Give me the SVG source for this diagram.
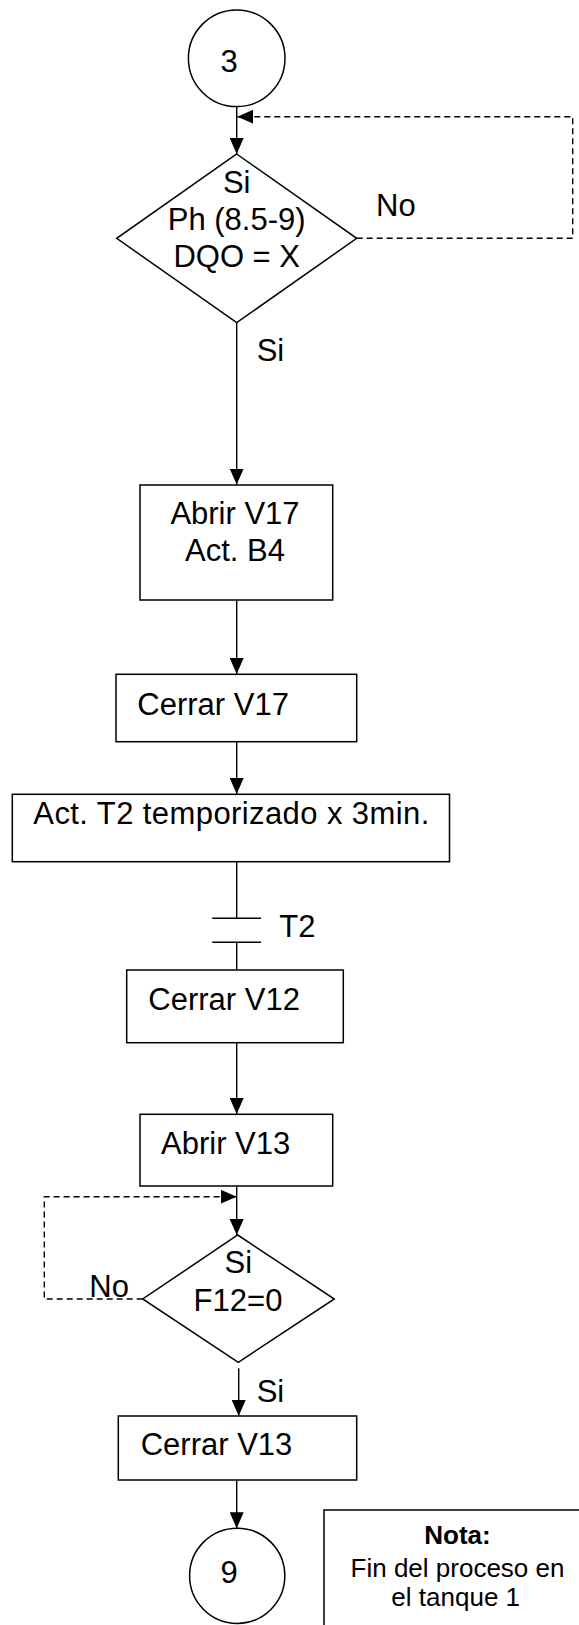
<svg xmlns="http://www.w3.org/2000/svg" width="579" height="1625" viewBox="0 0 579 1625">
<style>
.s{fill:#fff;stroke:#000;stroke-width:1.5}
.c{fill:none;stroke:#000;stroke-width:1.4}
.d{fill:none;stroke:#000;stroke-width:1.4;stroke-dasharray:6 4}
text{font-family:"Liberation Sans",Arial,sans-serif;font-size:31px;fill:#000}
.m{text-anchor:middle}
.n{font-size:26px}
</style>
<defs>
<marker id="ah" viewBox="0 0 16 14" refX="16" refY="7" markerWidth="16" markerHeight="14" orient="auto" markerUnits="userSpaceOnUse"><path d="M0,0 L16,7 L0,14 z" fill="#000"/></marker>
</defs>
<rect width="579" height="1625" fill="#fff"/>
<g id="connectors">
<line class="c" x1="236.7" y1="106.7" x2="236.7" y2="154" marker-end="url(#ah)"/>
<path class="d" d="M356.7,238.3 H572.7 V116.7 H237.3" marker-end="url(#ah)"/>
<line class="c" x1="236.7" y1="322.7" x2="236.7" y2="484.5" marker-end="url(#ah)"/>
<line class="c" x1="236.7" y1="600" x2="236.7" y2="674" marker-end="url(#ah)"/>
<line class="c" x1="236.7" y1="741.7" x2="236.7" y2="794" marker-end="url(#ah)"/>
<line class="c" x1="236.7" y1="861.7" x2="236.7" y2="918.3"/>
<line class="c" x1="212.3" y1="918.3" x2="261" y2="918.3"/>
<line class="c" x1="212.3" y1="942.3" x2="261" y2="942.3"/>
<line class="c" x1="236.7" y1="942.3" x2="236.7" y2="970"/>
<line class="c" x1="236.7" y1="1042.7" x2="236.7" y2="1114" marker-end="url(#ah)"/>
<line class="c" x1="236.7" y1="1186" x2="236.7" y2="1235" marker-end="url(#ah)"/>
<path class="d" d="M142.7,1299 H44.3 V1196.7 H236.7" marker-end="url(#ah)"/>
<line class="c" x1="238.7" y1="1368.3" x2="238.7" y2="1416" marker-end="url(#ah)"/>
<line class="c" x1="236.7" y1="1480" x2="236.7" y2="1528.3" marker-end="url(#ah)"/>
<text x="376" y="216">No</text>
<text x="256.7" y="360.7">Si</text>
<text x="279.3" y="936.7">T2</text>
<text x="89.3" y="1296.7">No</text>
<text x="256.7" y="1402.3">Si</text>
</g>
<g id="n3">
<circle class="s" cx="236.7" cy="58.3" r="48.3"/>
<text class="m" x="229.2" y="71.7">3</text>
</g>
<g id="d1">
<polygon class="s" points="236.7,154 356.7,238.3 236.7,322.7 116.7,238.3"/>
<text class="m" x="236.7" y="193.3">Si</text>
<text class="m" x="236.7" y="230">Ph (8.5-9)</text>
<text class="m" x="236.7" y="266.7">DQO = X</text>
</g>
<g id="r1">
<rect class="s" x="140" y="485" width="192.7" height="115"/>
<text class="m" x="235" y="524.3">Abrir V17</text>
<text class="m" x="235" y="561">Act. B4</text>
</g>
<g id="r2">
<rect class="s" x="116" y="674.3" width="240.7" height="67.4"/>
<text x="137.3" y="715">Cerrar V17</text>
</g>
<g id="r3">
<rect class="s" x="12.3" y="794.3" width="437.2" height="67.4"/>
<text x="33.3" y="824" textLength="396" lengthAdjust="spacing">Act. T2 temporizado x 3min.</text>
</g>
<g id="r4">
<rect class="s" x="126.7" y="970" width="216.6" height="72.7"/>
<text x="148.3" y="1010">Cerrar V12</text>
</g>
<g id="r5">
<rect class="s" x="140" y="1114.3" width="192.7" height="71.7"/>
<text x="161" y="1154">Abrir V13</text>
</g>
<g id="d2">
<polygon class="s" points="237.7,1235 334.3,1299 238.3,1362.3 142.7,1299"/>
<text class="m" x="238.3" y="1273.3">Si</text>
<text class="m" x="238" y="1310.7">F12=0</text>
</g>
<g id="r6">
<rect class="s" x="118.3" y="1416" width="238.4" height="64"/>
<text x="140.7" y="1455">Cerrar V13</text>
</g>
<g id="n9">
<circle class="s" cx="237.2" cy="1575.8" r="47.6"/>
<text class="m" x="229" y="1583.3">9</text>
</g>
<g id="note">
<rect class="s" x="324" y="1510" width="270" height="140"/>
<text class="m n" x="457.5" y="1544.3" font-weight="bold">Nota:</text>
<text class="m n" x="457.5" y="1577.3">Fin del proceso en</text>
<text class="m n" x="455.7" y="1606">el tanque 1</text>
</g>
</svg>
